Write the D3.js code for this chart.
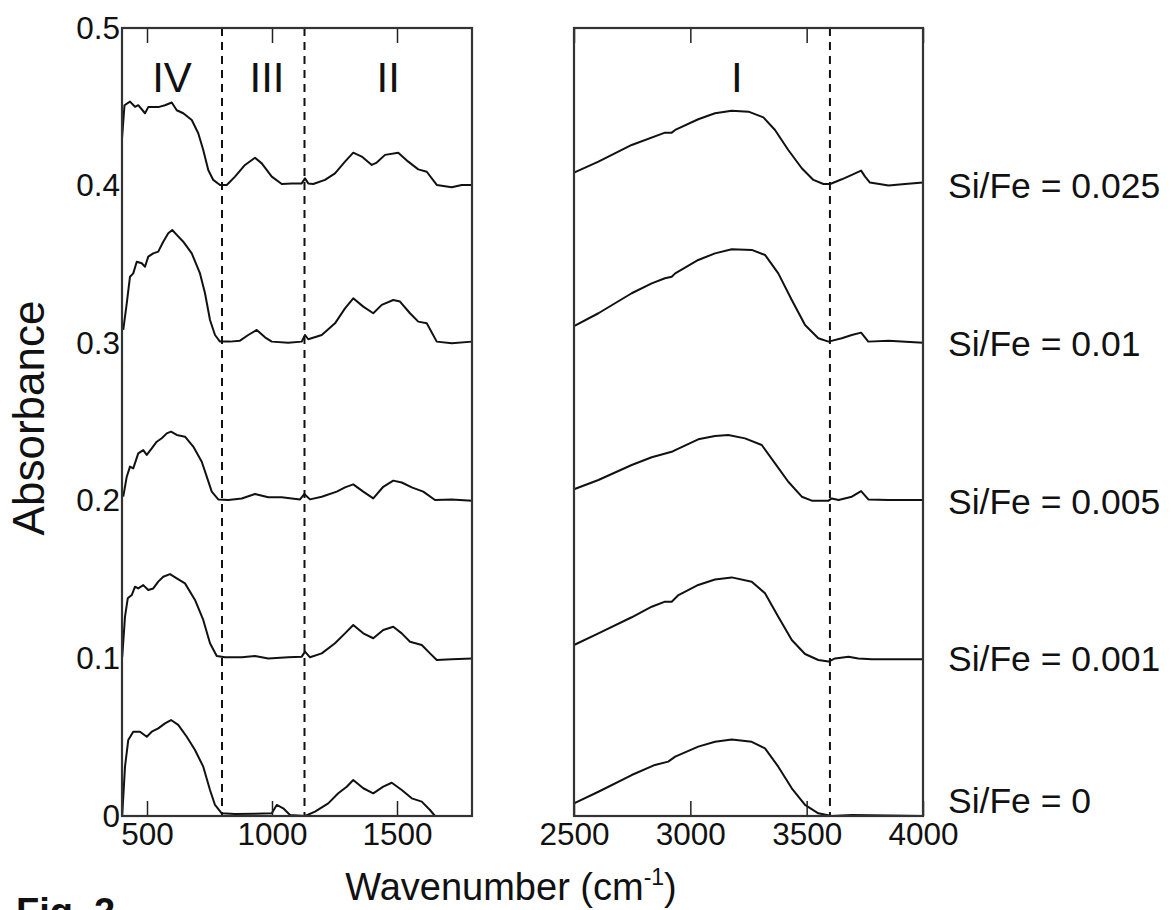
<!DOCTYPE html>
<html>
<head>
<meta charset="utf-8">
<script src="https://cdn.jsdelivr.net/npm/d3@7"></script>
<style>
  body { margin: 0; background: #fff; }
  text { font-family: "Liberation Sans", Arial, sans-serif; fill: #111; }
</style>
</head>
<body>
<script>
// sample labels, top to bottom
var samples = ["Si/Fe = 0.025", "Si/Fe = 0.01", "Si/Fe = 0.005", "Si/Fe = 0.001", "Si/Fe = 0"];
var offsets = [0.4, 0.3, 0.2, 0.1, 0];

// region labels and boundaries (cm-1)
var regions = [{ name: "IV", at: 600 }, { name: "III", at: 980 }, { name: "II", at: 1465 }, { name: "I", at: 3200 }];
var boundsLeft = [800, 1130];
var boundsRight = [3600];

var ticksLeft = [500, 1000, 1500];
var ticksRight = [2500, 3000, 3500, 4000];
var ticksY = [0, 0.1, 0.2, 0.3, 0.4, 0.5];

// low wavenumber panel, [wavenumber, absorbance]
var low025 = [[400,0.43],[410,0.451],[432,0.4533],[452,0.450],[465,0.451],[492,0.4459],[505,0.4498],[545,0.4498],[572,0.451],[599,0.4527],[619,0.4478],[645,0.4459],[679,0.4416],[705,0.4332],[725,0.4226],[745,0.4099],[765,0.4036],[792,0.4004],[819,0.4004],[852,0.4057],[892,0.4131],[932,0.4177],[959,0.4141],[999,0.4057],[1039,0.4010],[1079,0.4014],[1119,0.4014],[1132,0.4046],[1145,0.4014],[1165,0.4010],[1212,0.4036],[1252,0.4078],[1292,0.4152],[1325,0.4209],[1359,0.4184],[1399,0.4131],[1419,0.4146],[1452,0.4195],[1505,0.4209],[1545,0.4152],[1585,0.4103],[1619,0.4088],[1659,0.4004],[1719,0.3990],[1759,0.4004],[1800,0.4004]];
var low010 = [[405,0.3084],[419,0.3253],[432,0.3422],[445,0.3443],[459,0.3517],[479,0.3507],[492,0.3485],[505,0.3549],[525,0.3570],[545,0.3581],[565,0.3644],[585,0.3697],[601,0.3718],[619,0.3687],[645,0.3644],[679,0.3570],[712,0.3443],[732,0.3317],[752,0.3147],[772,0.3052],[792,0.3010],[832,0.3010],[872,0.3016],[905,0.3052],[939,0.3084],[972,0.3037],[999,0.3010],[1065,0.3003],[1119,0.3010],[1132,0.3052],[1145,0.3025],[1199,0.3052],[1252,0.3126],[1292,0.3221],[1325,0.3285],[1365,0.3232],[1405,0.3190],[1439,0.3243],[1485,0.3274],[1512,0.3264],[1552,0.3190],[1585,0.3137],[1619,0.3126],[1659,0.3010],[1719,0.3000],[1800,0.3010]];
var low005 = [[405,0.2026],[419,0.2153],[432,0.2217],[445,0.2206],[465,0.2301],[485,0.2322],[499,0.2291],[519,0.2333],[539,0.2375],[559,0.2397],[579,0.2428],[596,0.2439],[619,0.2418],[652,0.2407],[685,0.2344],[719,0.2248],[739,0.2153],[759,0.2058],[785,0.2009],[825,0.2005],[879,0.2015],[932,0.2043],[985,0.2022],[1039,0.2022],[1112,0.2009],[1129,0.2043],[1152,0.2009],[1199,0.2026],[1259,0.2058],[1292,0.2085],[1325,0.2104],[1365,0.2058],[1405,0.2015],[1445,0.2089],[1485,0.2128],[1519,0.2116],[1559,0.2085],[1605,0.2058],[1652,0.2005],[1719,0.2009],[1800,0.2001]];
var low001 = [[401,0.1011],[412,0.1265],[423,0.1381],[439,0.1402],[452,0.1455],[465,0.1444],[485,0.1465],[505,0.1434],[525,0.1444],[545,0.1487],[565,0.1518],[592,0.1535],[619,0.1508],[652,0.1476],[692,0.1371],[725,0.1244],[752,0.1096],[779,0.1015],[812,0.1007],[879,0.1007],[932,0.1015],[985,0.1000],[1065,0.1007],[1119,0.1011],[1132,0.1043],[1152,0.1007],[1199,0.1032],[1252,0.1096],[1292,0.1159],[1325,0.1212],[1365,0.1159],[1405,0.1128],[1445,0.1180],[1485,0.1201],[1519,0.1159],[1552,0.1106],[1599,0.1085],[1632,0.1032],[1659,0.0990],[1719,0.0995],[1800,0.1000]];
var low000 = [[401,0.0006],[412,0.0313],[425,0.0482],[445,0.0535],[472,0.0535],[499,0.0503],[519,0.0535],[545,0.0556],[572,0.0588],[596,0.0609],[625,0.0578],[659,0.0503],[692,0.0419],[725,0.0313],[752,0.0165],[772,0.0070],[799,0.0017],[852,0.0013],[932,0.0015],[999,0.0017],[1019,0.0070],[1045,0.0049],[1072,0.0006],[1132,0.0000],[1172,0.0028],[1225,0.0080],[1265,0.0144],[1299,0.0186],[1325,0.0228],[1365,0.0176],[1405,0.0144],[1445,0.0186],[1479,0.0211],[1519,0.0165],[1559,0.0112],[1599,0.0091],[1632,0.0038],[1652,0.0000],[1719,0.0000],[1800,0.0000]];

// high wavenumber panel
var high025 = [[2500,0.4082],[2605,0.4152],[2748,0.4258],[2891,0.4336],[2920,0.4336],[2935,0.4353],[3034,0.4421],[3106,0.4459],[3178,0.4475],[3250,0.4469],[3314,0.4433],[3364,0.4353],[3421,0.4226],[3479,0.4110],[3529,0.4036],[3572,0.4010],[3601,0.4010],[3651,0.4040],[3694,0.4068],[3734,0.4095],[3751,0.4057],[3772,0.4019],[3852,0.4000],[3923,0.4010],[4000,0.4019]];
var high010 = [[2500,0.3109],[2605,0.3190],[2748,0.3317],[2834,0.3380],[2891,0.3412],[2920,0.3422],[2935,0.3443],[3034,0.3528],[3106,0.3570],[3178,0.3596],[3264,0.3592],[3321,0.3560],[3378,0.3443],[3436,0.3274],[3493,0.3115],[3550,0.3031],[3594,0.3010],[3651,0.3031],[3694,0.3052],[3734,0.3067],[3765,0.3010],[3852,0.3016],[4000,0.3003]];
var high005 = [[2500,0.2073],[2605,0.2132],[2748,0.2227],[2834,0.2276],[2920,0.2311],[2935,0.2322],[3034,0.2390],[3106,0.2411],[3163,0.2418],[3235,0.2396],[3307,0.2354],[3364,0.2238],[3421,0.2121],[3479,0.2026],[3522,0.2001],[3594,0.2001],[3608,0.2015],[3637,0.2005],[3694,0.2026],[3734,0.2062],[3765,0.2009],[3852,0.2005],[4000,0.2005]];
var high001 = [[2500,0.1085],[2605,0.1159],[2748,0.1261],[2834,0.1328],[2891,0.1360],[2920,0.1360],[2949,0.1402],[3034,0.1466],[3106,0.1501],[3178,0.1514],[3264,0.1487],[3321,0.1413],[3378,0.1265],[3436,0.1117],[3493,0.1028],[3550,0.0990],[3594,0.0980],[3622,0.1000],[3680,0.1011],[3722,0.1000],[3780,0.0995],[4000,0.0995]];
var high000 = [[2500,0.0080],[2605,0.0154],[2748,0.0260],[2848,0.0324],[2905,0.0345],[2935,0.0377],[3034,0.0440],[3106,0.0471],[3178,0.0486],[3264,0.0471],[3321,0.0429],[3378,0.0313],[3436,0.0176],[3493,0.0070],[3550,0.0017],[3608,0.0000],[3694,0.0006],[4000,0.0000]];

var lowSeries = [low025, low010, low005, low001, low000];
var highSeries = [high025, high010, high005, high001, high000];

var width = 1171, height = 910;
var plotTop = 28, plotBottom = 816;

var svg = d3.select("body").append("svg")
  .attr("width", width)
  .attr("height", height);

var y = d3.scaleLinear().domain([0, 0.5]).range([plotBottom, plotTop]);
var xLow = d3.scaleLinear().domain([400, 1800]).range([122, 472]);
var xHigh = d3.scaleLinear().domain([2500, 4000]).range([574, 923]);

function panel(x, series, bounds, ticks) {
  var g = svg.append("g");

  // dashed region boundaries
  g.selectAll(".bound")
    .data(bounds)
    .enter().append("line")
    .attr("x1", function(d) { return x(d); })
    .attr("x2", function(d) { return x(d); })
    .attr("y1", plotTop)
    .attr("y2", plotBottom)
    .attr("stroke", "#111")
    .attr("stroke-width", 2)
    .attr("stroke-dasharray", "8,6");

  var line = d3.line()
    .x(function(d) { return x(d[0]); })
    .y(function(d) { return y(d[1]); });

  g.selectAll(".spectrum")
    .data(series)
    .enter().append("path")
    .attr("d", line)
    .attr("fill", "none")
    .attr("stroke", "#111")
    .attr("stroke-width", 2)
    .attr("stroke-linejoin", "round");

  // inward ticks on top and bottom
  var axB = g.append("g")
    .attr("transform", "translate(0," + plotBottom + ")")
    .call(d3.axisBottom(x).tickValues(ticks).tickSize(-15).tickPadding(7).tickFormat(d3.format("d")));
  var axT = g.append("g")
    .attr("transform", "translate(0," + plotTop + ")")
    .call(d3.axisTop(x).tickValues(ticks).tickSize(-15).tickFormat(""));
  [axB, axT].forEach(function(a) {
    a.select(".domain").remove();
    a.selectAll("line").attr("stroke", "#222").attr("stroke-width", 1.5);
  });
  axB.attr("font-size", 31.5).attr("font-family", null);
  axB.selectAll("text").attr("fill", "#111");

  // frame
  g.append("rect")
    .attr("x", x.range()[0])
    .attr("y", plotTop)
    .attr("width", x.range()[1] - x.range()[0])
    .attr("height", plotBottom - plotTop)
    .attr("fill", "none")
    .attr("stroke", "#333")
    .attr("stroke-width", 2.2);
}

panel(xLow, lowSeries, boundsLeft, ticksLeft);
panel(xHigh, highSeries, boundsRight, ticksRight);

// y axis labels only
var axY = svg.append("g")
  .attr("transform", "translate(" + xLow.range()[0] + ",0)")
  .call(d3.axisLeft(y).tickValues(ticksY).tickSize(0).tickPadding(2)
    .tickFormat(function(d) { return d === 0 ? "0" : d3.format(".1f")(d); }));
axY.select(".domain").remove();
axY.attr("font-size", 31.5).attr("font-family", null);
axY.selectAll("text").attr("fill", "#111");

// region numerals
svg.selectAll(".region")
  .data(regions)
  .enter().append("text")
  .attr("x", function(d) { return d.at < 2000 ? xLow(d.at) : xHigh(d.at); })
  .attr("y", 92)
  .attr("text-anchor", "middle")
  .attr("font-size", 42)
  .text(function(d) { return d.name; });

// sample labels on the right
svg.selectAll(".sample")
  .data(samples)
  .enter().append("text")
  .attr("x", 948)
  .attr("y", function(d, i) { return Math.min(y(offsets[i]), 800); })
  .attr("dy", "0.36em")
  .attr("font-size", 35.5)
  .text(function(d) { return d; });

// axis titles
svg.append("text")
  .attr("transform", "translate(44," + ((plotTop + plotBottom) / 2 - 4) + ") rotate(-90)")
  .attr("text-anchor", "middle")
  .attr("font-size", 44)
  .text("Absorbance");

var xt = svg.append("text")
  .attr("x", 511)
  .attr("y", 900)
  .attr("text-anchor", "middle")
  .attr("font-size", 38);
xt.append("tspan").text("Wavenumber (cm");
xt.append("tspan").attr("font-size", 23).attr("dy", -15).text("-1");
xt.append("tspan").attr("dy", 15).text(")");

svg.append("text")
  .attr("x", 16)
  .attr("y", 925)
  .attr("font-size", 38)
  .attr("font-weight", "bold")
  .text("Fig. 2");
</script>
</body>
</html>
